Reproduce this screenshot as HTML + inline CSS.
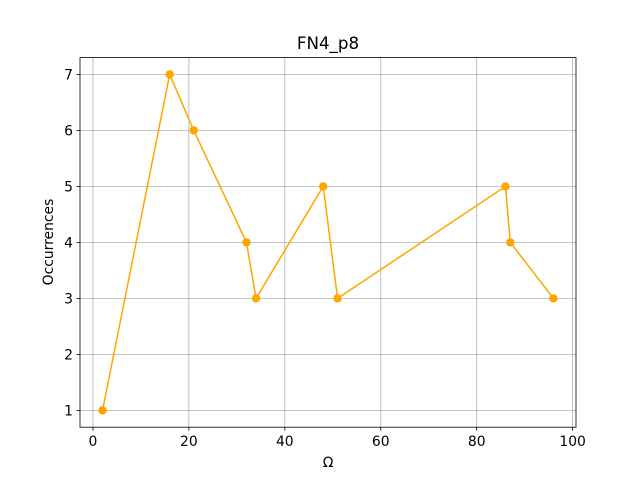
<!DOCTYPE html>
<html><head><meta charset="utf-8"><style>
body{margin:0;background:#fff}
svg{display:block;font-family:"DejaVu Sans","Liberation Sans",sans-serif}
</style></head><body>
<svg id="chart" width="640" height="480" viewBox="0 0 640 480">
<rect width="640" height="480" fill="#fff"/>
<g id="grid"></g>
<g id="ticks"></g>
<g id="series"></g>
<rect x="80" y="57.6" width="496" height="369.6" fill="none" stroke="#000" stroke-width="0.8"/>
<text x="328" y="49" text-anchor="middle" font-size="16.7">FN4_p8</text>
<text x="328" y="467" text-anchor="middle" font-size="13.9">Ω</text>
<text x="0" y="0" transform="translate(53,242) rotate(-90)" text-anchor="middle" font-size="13.9">Occurrences</text>
</svg>
<script>
const xValues=[2,16,21,32,34,48,51,86,87,96];
const yValues=[1,7,6,4,3,5,3,5,4,3];
const xTicks=[0,20,40,60,80,100];
const yTicks=[1,2,3,4,5,6,7];
const X0=80,X1=576,Y0=427.2,Y1=57.6;
const xmin=-2.7,xmax=100.7,ymin=0.7,ymax=7.3;
const sx=v=>X0+(v-xmin)/(xmax-xmin)*(X1-X0);
const sy=v=>Y0-(v-ymin)/(ymax-ymin)*(Y0-Y1);
const NS="http://www.w3.org/2000/svg";
function mk(t,a,p){const e=document.createElementNS(NS,t);for(const k in a)e.setAttribute(k,a[k]);p.appendChild(e);return e;}
const grid=document.getElementById('grid'),ticks=document.getElementById('ticks'),series=document.getElementById('series');
xTicks.forEach(v=>{const x=sx(v);
const g=mk('line',{x1:x,x2:x,y1:Y0,y2:Y1,stroke:'#b0b0b0','stroke-width':0.8},grid);


const t=mk('line',{x1:x,x2:x,y1:Y0,y2:Y0+3.5,stroke:'#000','stroke-width':0.8},ticks);


const l=mk('text',{x:x,y:Y0+19,'text-anchor':'middle','font-size':13.9},ticks);l.textContent=v;

});
yTicks.forEach(v=>{const y=sy(v);
const g=mk('line',{x1:X0,x2:X1,y1:y,y2:y,stroke:'#b0b0b0','stroke-width':0.8},grid);


const t=mk('line',{x1:X0-3.5,x2:X0,y1:y,y2:y,stroke:'#000','stroke-width':0.8},ticks);


const l=mk('text',{x:X0-7,y:y+5,'text-anchor':'end','font-size':13.9},ticks);l.textContent=v;

});
const pts=xValues.map((v,i)=>sx(v)+','+sy(yValues[i])).join(' ');
const pl=mk('polyline',{points:pts,fill:'none',stroke:'orange','stroke-width':1.5},series);


xValues.forEach((v,i)=>{const c=mk('circle',{cx:sx(v),cy:sy(yValues[i]),r:4.2,fill:'orange'},series);

});
</script>
</body></html>
